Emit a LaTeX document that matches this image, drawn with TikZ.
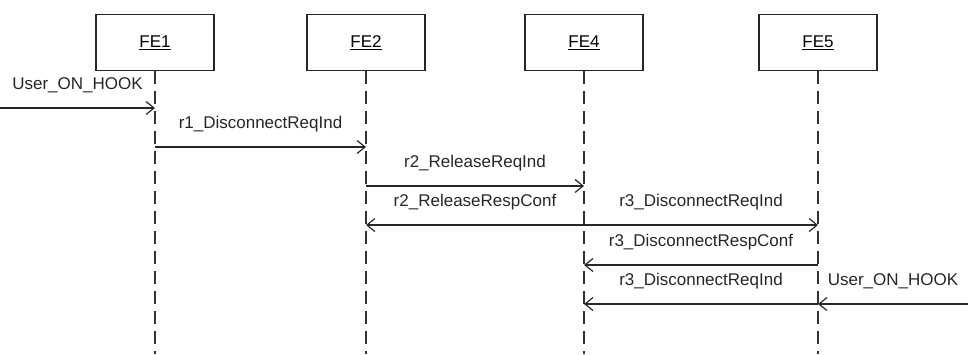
\documentclass[tikz,border=0pt]{standalone}
\usepackage{fontspec}
\setmainfont{Liberation Sans}
\usetikzlibrary{arrows.meta}
\usetikzlibrary{calc}

\tikzset{
  fe/.style={draw=black!85, line width=1.3pt, minimum width=118pt, minimum height=56pt, inner sep=0pt},
  life/.style={draw=black!80, line width=1.2pt, dash pattern=on 13pt off 7pt},
  msg/.style={draw=black!85, line width=1.2pt, -{Straight Barb[length=8pt,width=13pt]}},
  lbl/.style={midway, anchor=base, yshift=18.5pt, inner sep=0pt, text=black!85}
}

\begin{document}
\begin{tikzpicture}[x=1pt, y=-1pt, font=\fontsize{17}{20}\selectfont]
\useasboundingbox (0,0) rectangle (968,354);
% entities
\node[fe] (fe1) at (155,42.5) {\underline{FE1}};
\node[fe] (fe2) at (366,42.5) {\underline{FE2}};
\node[fe] (fe4) at (584,42.5) {\underline{FE4}};
\node[fe] (fe5) at (818,42.5) {\underline{FE5}};
\coordinate (bot) at (0,354);
\foreach \f in {fe1,fe2,fe4,fe5} {
 \draw[life] (\f.south) -- (\f.south |- bot);
}
% message rows
\coordinate (in1) at (0,108);
\coordinate (in2) at (968,304);
\coordinate (m1) at (0,147);
\coordinate (m2) at (0,186);
\coordinate (m3) at (0,225);
\coordinate (m4) at (0,265);
\coordinate (m5) at (0,304);
\draw[msg] (in1) -- (in1 -| fe1) node[lbl]{User\_ON\_HOOK};
\draw[msg] (m1 -| fe1) -- (m1 -| fe2) node[lbl]{r1\_DisconnectReqInd};
\draw[msg] (m2 -| fe2) -- (m2 -| fe4) node[lbl]{r2\_ReleaseReqInd};
\draw[msg] (m3 -| fe4) -- (m3 -| fe2) node[lbl]{r2\_ReleaseRespConf};
\draw[msg] (m3 -| fe4) -- (m3 -| fe5) node[lbl]{r3\_DisconnectReqInd};
\draw[msg] (m4 -| fe5) -- (m4 -| fe4) node[lbl]{r3\_DisconnectRespConf};
\draw[msg] (m5 -| fe5) -- (m5 -| fe4) node[lbl]{r3\_DisconnectReqInd};
\draw[msg] (in2) -- (in2 -| fe5) node[lbl]{User\_ON\_HOOK};
\end{tikzpicture}
\end{document}
